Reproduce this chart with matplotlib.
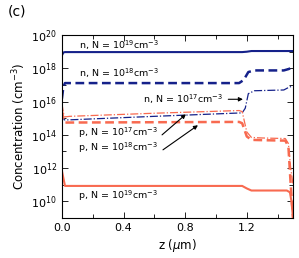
import matplotlib
matplotlib.use("Agg")
import matplotlib.pyplot as plt
from matplotlib.ticker import FixedLocator, LogFormatterMathtext

# electron concentration, n
z_n19 = [0.0, 0.01, 0.02, 1.17, 1.20, 1.23, 1.50]
n_n19 = [6e18, 9e18, 9.5e18, 9.5e18, 1.0e19, 1.1e19, 1.1e19]

z_n18 = [0.0, 0.01, 0.02, 1.15, 1.18, 1.21, 1.25, 1.44, 1.47, 1.50]
n_n18 = [1.5e16, 8e16, 1.3e17, 1.3e17, 2e17, 6e17, 7.5e17, 7.5e17, 9e17, 1.15e18]

z_n17 = [0.0, 0.015, 0.05, 0.6, 1.17, 1.19, 1.21, 1.25, 1.44, 1.47, 1.50]
n_n17 = [2e15, 8e14, 8e14, 1.3e15, 2.1e15, 4e15, 3e16, 4.5e16, 5e16, 7e16, 9e16]

# hole concentration, p
z_p17 = [0.0, 0.01, 0.02, 0.05, 0.6, 1.15, 1.17, 1.20, 1.23, 1.30, 1.45, 1.47, 1.485, 1.50]
p_p17 = [8e15, 2e15, 1.2e15, 1.3e15, 2e15, 2.9e15, 2.5e15, 1.5e14, 7e13, 6.5e13, 6e13, 3e13, 1e12, 1e11]

z_p18 = [0.0, 0.01, 0.02, 1.15, 1.17, 1.20, 1.23, 1.30, 1.45, 1.47, 1.485, 1.50]
p_p18 = [3e15, 8e14, 5.5e14, 6e14, 5e14, 8e13, 5e13, 4.8e13, 4.5e13, 2e13, 1e11, 1e9]

z_p19 = [0.0, 0.02, 1.17, 1.20, 1.23, 1.46, 1.48, 1.49, 1.50]
p_p19 = [7e11, 8.5e10, 8.5e10, 6e10, 4.5e10, 4.5e10, 3.5e10, 1e10, 1e9]

navy = "#15218a"
salmon = "#f86a50"

fig = plt.figure(figsize=(2.99, 2.58), dpi=100)
ax = fig.add_axes([0.207, 0.155, 0.773, 0.709])

ax.plot(z_n19, n_n19, color=navy, lw=1.5, ls="-")
ax.plot(z_n18, n_n18, color=navy, lw=1.8, ls=(0, (3.5, 1.8)))
ax.plot(z_n17, n_n17, color=navy, lw=0.9, ls="-.")
ax.plot(z_p17, p_p17, color=salmon, lw=0.9, ls="-.")
ax.plot(z_p18, p_p18, color=salmon, lw=1.8, ls=(0, (3.5, 1.8)))
ax.plot(z_p19, p_p19, color=salmon, lw=1.5, ls="-")

ax.set_yscale("log")
ax.set_xlim(0, 1.5)
ax.set_ylim(1e9, 1e20)

ax.xaxis.set_major_locator(FixedLocator([0.0, 0.4, 0.8, 1.2]))
ax.xaxis.set_minor_locator(FixedLocator([0.2, 0.6, 1.0, 1.4]))
ax.set_xticklabels(["0.0", "0.4", "0.8", "1.2"])
ax.yaxis.set_major_locator(FixedLocator([1e10, 1e12, 1e14, 1e16, 1e18, 1e20]))
ax.yaxis.set_minor_locator(FixedLocator([1e9, 1e11, 1e13, 1e15, 1e17, 1e19]))
ax.yaxis.set_major_formatter(LogFormatterMathtext())
ax.yaxis.set_minor_formatter(plt.NullFormatter())
ax.tick_params(which="both", direction="in", top=True, right=True, labelsize=8, width=0.6)
ax.tick_params(which="major", length=4)
ax.tick_params(which="minor", length=3)
for s in ax.spines.values():
    s.set_linewidth(0.8)

ax.set_xlabel(r"z ($\mu$m)", fontsize=8.5, labelpad=3)
ax.set_ylabel(r"Concentration (cm$^{-3}$)", fontsize=8.5, labelpad=2)

fs = 6.8
ax.text(0.112, 10**19.4, r"n, N = 10$^{19}$cm$^{-3}$", fontsize=fs, va="center")
ax.text(0.112, 10**17.7, r"n, N = 10$^{18}$cm$^{-3}$", fontsize=fs, va="center")
ax.text(0.526, 10**16.14, r"n, N = 10$^{17}$cm$^{-3}$", fontsize=fs, va="center")
ax.text(0.104, 10**14.16, r"p, N = 10$^{17}$cm$^{-3}$", fontsize=fs, va="center")
ax.text(0.104, 10**13.2, r"p, N = 10$^{18}$cm$^{-3}$", fontsize=fs, va="center")
ax.text(0.104, 10**10.36, r"p, N = 10$^{19}$cm$^{-3}$", fontsize=fs, va="center")

arrow = dict(arrowstyle="-|>", color="k", lw=0.8, mutation_scale=6, shrinkA=0, shrinkB=0)
ax.annotate("", xy=(1.175, 10**16.14), xytext=(1.08, 10**16.14), arrowprops=arrow)
ax.annotate("", xy=(0.805, 10**15.24), xytext=(0.65, 10**14.0), arrowprops=arrow)
ax.annotate("", xy=(0.883, 10**14.58), xytext=(0.656, 10**13.1), arrowprops=arrow)

fig.text(0.027, 0.955, "(c)", fontsize=10, va="center")

fig.savefig("out.png", dpi=100)
